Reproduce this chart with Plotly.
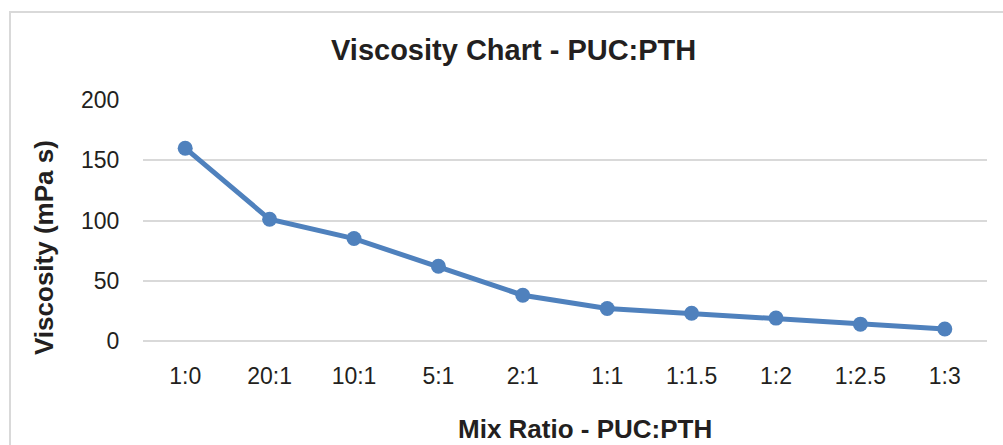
import plotly.graph_objects as go

categories = ["1:0", "20:1", "10:1", "5:1", "2:1", "1:1", "1:1.5", "1:2", "1:2.5", "1:3"]
viscosity = [160, 101, 85, 62, 38, 27, 23, 19, 14, 10]
y_ticks = [0, 50, 100, 150, 200]

TEXT = "#231f20"
GRID = "#d9d9d9"
FONT = "Liberation Sans, Arial, sans-serif"

L, R, T, B = 143, 16, 100, 104
W, H = 1003, 445
pw = W - L - R
ph = H - T - B

def px_x(p):
    return (p - L) / pw

def px_y(p):
    return (H - B - p) / ph

fig = go.Figure()
fig.add_trace(go.Scatter(
    x=categories, y=viscosity, mode="lines+markers",
    line=dict(color="#4f81bd", width=5),
    marker=dict(color="#4f81bd", size=15),
    showlegend=False, cliponaxis=False,
))

fig.update_layout(
    width=W, height=H,
    margin=dict(l=L, r=R, t=T, b=B),
    paper_bgcolor="white", plot_bgcolor="white",
    font=dict(family=FONT, color=TEXT),
    xaxis=dict(
        type="category", range=[-0.5, len(categories) - 0.5],
        showgrid=False, showline=False, zeroline=False,
        ticks="outside", ticklen=14, tickcolor="rgba(0,0,0,0)",
        tickfont=dict(size=23, color=TEXT),
    ),
    yaxis=dict(
        range=[0, 200], tickvals=y_ticks,
        showgrid=True, gridcolor=GRID, gridwidth=1.5,
        zeroline=True, zerolinecolor=GRID, zerolinewidth=1.5,
        showline=False,
        ticks="outside", ticklen=18, tickcolor="rgba(0,0,0,0)",
        tickfont=dict(size=23, color=TEXT),
    ),
    shapes=[dict(
        type="rect", xref="paper", yref="paper",
        x0=px_x(10), x1=px_x(1015), y0=px_y(470), y1=px_y(12),
        line=dict(color=GRID, width=2), fillcolor="rgba(0,0,0,0)", layer="below",
    )],
    annotations=[
        dict(text="<b>Viscosity Chart - PUC:PTH</b>", xref="paper", yref="paper",
             x=px_x(513), y=px_y(50), showarrow=False, xanchor="center", yanchor="middle",
             font=dict(size=29, color=TEXT)),
        dict(text="<b>Viscosity (mPa s)</b>", xref="paper", yref="paper",
             x=px_x(44), y=px_y(248), showarrow=False, xanchor="center", yanchor="middle",
             textangle=-90, font=dict(size=26, color=TEXT)),
        dict(text="<b>Mix Ratio - PUC:PTH</b>", xref="paper", yref="paper",
             x=px_x(585), y=px_y(429), showarrow=False, xanchor="center", yanchor="middle",
             font=dict(size=26, color=TEXT)),
    ],
)

fig.write_html(
    "out.html",
    config={"displayModeBar": False},
    post_script="document.body.style.margin='0';document.body.style.overflow='hidden';",
)
